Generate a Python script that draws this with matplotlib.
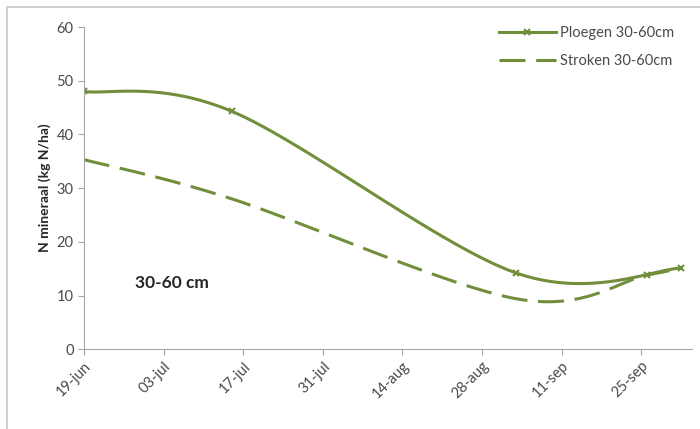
import numpy as np
import pandas as pd
import matplotlib
matplotlib.use("Agg")
import matplotlib.pyplot as plt
import matplotlib.dates as mdates
from matplotlib.patches import Rectangle

plt.rcParams['font.family'] = ['Lato', 'DejaVu Sans']

# bemonsteringsdata 30-60 cm laag
ploegen_dates = ["2013-06-19", "2013-07-15", "2013-09-03", "2013-10-02"]
ploegen_n = [48.0, 44.3, 14.2, 15.1]
stroken_dates = ["2013-06-19", "2013-07-15", "2013-09-03", "2013-09-26", "2013-10-02"]
stroken_n = [35.3, 28.0, 9.4, 13.8, 15.1]
tick_dates = ["2013-06-19", "2013-07-03", "2013-07-17", "2013-07-31",
              "2013-08-14", "2013-08-28", "2013-09-11", "2013-09-25"]
tick_labels = ["19-jun", "03-jul", "17-jul", "31-jul", "14-aug", "28-aug", "11-sep", "25-sep"]

groen = "#718f3b"
grijs = "#4a4a4a"


def smooth(dates, values, n=40):
    # Excel-achtige afgevlakte lijn: bezier met Catmull-Rom raaklijnen
    x = mdates.date2num(pd.to_datetime(dates))
    y = np.array(values, dtype=float)
    pts = np.column_stack([x, y])
    out = [pts[:1]]
    t = np.linspace(0, 1, n)[1:, None]
    for i in range(len(pts) - 1):
        p0 = pts[i - 1] if i > 0 else pts[i]
        p3 = pts[i + 2] if i + 2 < len(pts) else pts[i + 1]
        c1 = pts[i] + (pts[i + 1] - p0) / 6
        c2 = pts[i + 1] - (p3 - pts[i]) / 6
        seg = ((1 - t) ** 3 * pts[i] + 3 * (1 - t) ** 2 * t * c1
               + 3 * (1 - t) * t ** 2 * c2 + t ** 3 * pts[i + 1])
        out.append(seg)
    out = np.vstack(out)
    return mdates.num2date(out[:, 0]), out[:, 1]


fig = plt.figure(figsize=(7, 4.29), dpi=100)
ax = fig.add_axes([0.12, 0.186, 0.869, 0.751])

px, py = smooth(ploegen_dates, ploegen_n)
sx, sy = smooth(stroken_dates, stroken_n)
ax.plot(px, py, color=groen, lw=2.2)
ax.plot(pd.to_datetime(ploegen_dates), ploegen_n, ls="none", marker="x",
        color=groen, ms=5, mew=1.5)
ax.plot(sx, sy, color=groen, lw=2.2, ls=(0, (8.5, 3.5)))
ax.plot(pd.to_datetime(stroken_dates[3:4]), stroken_n[3:4], ls="none", marker="x",
        color=groen, ms=5, mew=1.5)

# legenda-items
ax.plot([], [], color=groen, lw=2.2, marker="x", ms=5, mew=1.5, label="Ploegen 30-60cm")
ax.plot([], [], color=groen, lw=2.2, ls=(0, (8.5, 3.5)), label="Stroken 30-60cm")

ax.set_ylim(0, 60)
ax.set_yticks(range(0, 61, 10))
ax.set_xlim(pd.Timestamp("2013-06-19"), pd.Timestamp("2013-10-04"))
ax.set_xticks(pd.to_datetime(tick_dates))
ax.set_xticklabels(tick_labels, rotation=45, ha="right", rotation_mode="anchor")

for s in ["top", "right"]:
    ax.spines[s].set_visible(False)
for s in ["left", "bottom"]:
    ax.spines[s].set_color("#a6a6a6")
ax.tick_params(colors="#a6a6a6", labelcolor=grijs, labelsize=10.5, length=4)
ax.tick_params(axis="x", pad=3)

ax.set_ylabel("N mineraal (kg N/ha)", fontsize=10, fontweight="bold", color="#262626")
ax.text(pd.Timestamp("2013-06-28"), 12.3, "30-60 cm", fontsize=12.5,
        fontweight="bold", color="#262626", va="center")

ax.legend(loc="upper right", bbox_to_anchor=(0.992, 1.045), frameon=False,
          fontsize=10.5, handlelength=3.9, handletextpad=0.3, labelspacing=1.0,
          labelcolor=grijs)

# rand van het grafiekgebied
fig.add_artist(Rectangle((7 / 700, -0.1), 1.1, 1.1 - 7 / 429, transform=fig.transFigure,
                         fill=False, edgecolor="#c8c8c8", lw=1.2))

fig.savefig("out.png", dpi=100)
